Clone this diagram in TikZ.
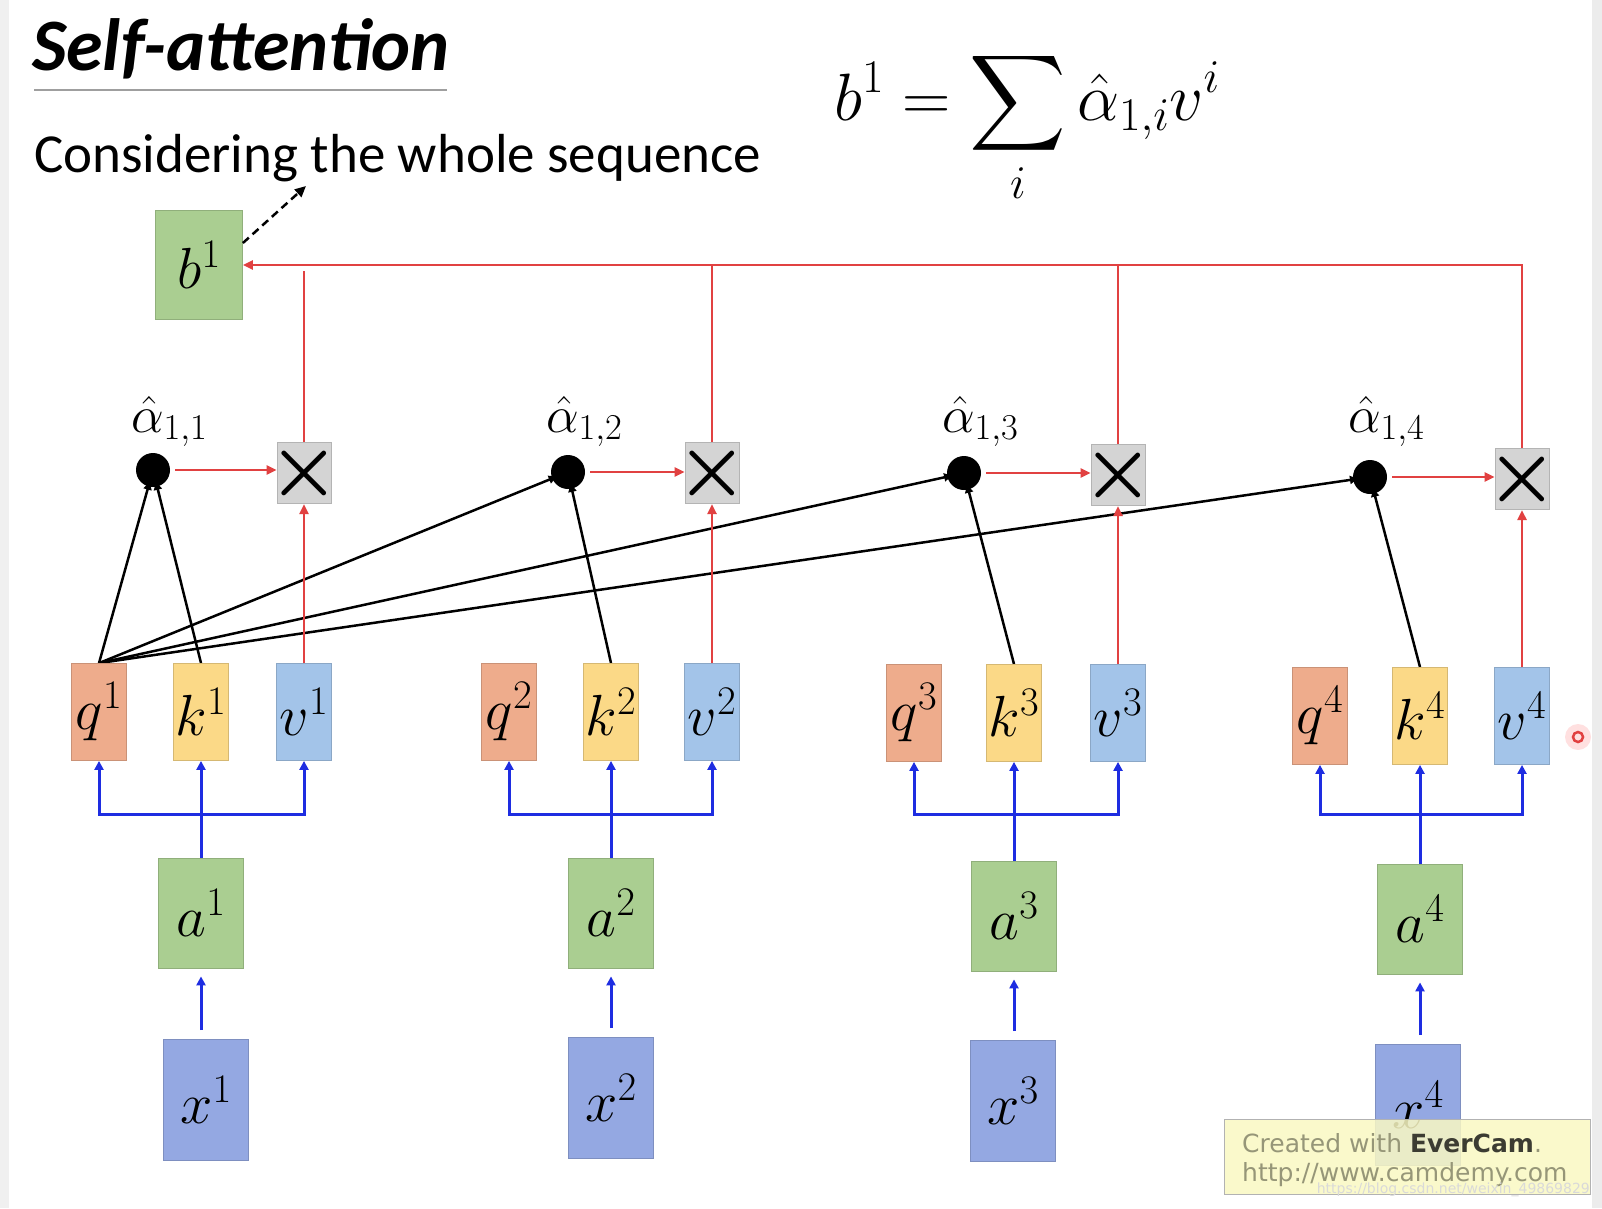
\RequirePackage{fix-cm}
\documentclass[tikz,border=0pt]{standalone}
\usepackage{fontspec}
\DeclareFontShape{OMX}{cmex}{m}{n}{<-> cmex10}{}
\newfontfamily\calibri{Carlito}
\newfontfamily\dejavu{DejaVu Sans}
\usetikzlibrary{arrows.meta}
\pgfdeclarelayer{back}
\pgfdeclarelayer{lines}
\pgfsetlayers{back,lines,main}
\definecolor{qcol}{RGB}{238,172,140}
\definecolor{kcol}{RGB}{251,217,135}
\definecolor{vcol}{RGB}{163,196,233}
\definecolor{gcol}{RGB}{170,206,145}
\definecolor{xcol}{RGB}{148,168,226}
\definecolor{mcol}{RGB}{212,212,212}
\definecolor{redc}{RGB}{225,65,65}
\definecolor{bluc}{RGB}{30,45,225}
\definecolor{wmyellow}{RGB}{250,248,195}
\definecolor{wmgray}{RGB}{150,150,120}
\definecolor{wmdark}{RGB}{60,60,50}
\begin{document}
\begin{tikzpicture}[x=1pt,y=-1pt,
  box/.style={rectangle, inner sep=0pt, line width=0.8pt, font=\fontsize{58}{60}\selectfont},
  qbox/.style={box, fill=qcol, draw=qcol!85!black, minimum width=55pt, minimum height=97pt},
  kbox/.style={box, fill=kcol, draw=kcol!85!black, minimum width=55pt, minimum height=97pt},
  vbox/.style={box, fill=vcol, draw=vcol!85!black, minimum width=55pt, minimum height=97pt},
  abox/.style={box, fill=gcol, draw=gcol!85!black, minimum width=85pt, minimum height=110pt},
  xbox/.style={box, fill=xcol, draw=xcol!85!black, minimum width=85pt, minimum height=121pt},
  mbox/.style={rectangle, inner sep=0pt, fill=mcol, draw=mcol!85!black, line width=0.8pt, minimum width=54pt, minimum height=55pt},
  dot/.style={circle, fill=black, inner sep=0pt, minimum size=34pt},
  alab/.style={anchor=base west, inner sep=0pt, font=\fontsize{52}{56}\selectfont},
  redline/.style={draw=redc, line width=2.5pt},
  redarr/.style={redline, -{Triangle[length=10pt,width=9pt]}},
  blueline/.style={draw=bluc, line width=3pt},
  bluearr/.style={blueline, -{Triangle[length=9pt,width=9pt]}},
  blkarr/.style={draw=black, line width=2.5pt, -{Triangle[length=8pt,width=8pt]}, shorten >=-5pt},
]
\useasboundingbox (0,0) rectangle (1602,1208);
\begin{pgfonlayer}{back}
\fill[white] (0,0) rectangle (1602,1208);
\fill[gray!12] (0,0) rectangle (9,1208);
\fill[gray!15] (1592,0) rectangle (1602,1208);
\end{pgfonlayer}

% title and texts
\node[anchor=base west, inner sep=0pt] (title) at (32,70) {\calibri\fontsize{74}{80}\selectfont\bfseries\itshape Self-attention};
\draw[gray!75, line width=2.5pt] (34,90) -- (447,90);
\node[anchor=base west, inner sep=0pt] (cons) at (34,172) {\calibri\fontsize{55}{60}\selectfont Considering the whole sequence};
\node[anchor=base, inner sep=0pt] (form) at (1027,120) {\fontsize{67}{70}\selectfont$\displaystyle b^1=\sum_i \hat{\alpha}_{1,i}v^i$};

% b1
\node[abox, minimum width=87pt, minimum height=109pt] (b1) at (199,265) {$b^1$};
\coordinate (c1) at (306,186);
\draw[black, line width=2.5pt, dashed, dash pattern=on 8pt off 5pt, -{Triangle[length=11pt,width=10pt]}] ([yshift=22pt]b1.east) -- (c1);

% groups
\foreach \i/\qx/\kx/\vx/\yy/\ay/\xx/\xy/\my/\dx/\dy in {
  1/99/201/304/712/913/206/1100/473/153/470,
  2/509/611/712/712/913/611/1098/473/568/472,
  3/914/1014/1118/713/916/1013/1101/475/964/473,
  4/1320/1420/1522/716/919/1418/1105/479/1370/477}{
  \node[qbox] (q\i) at (\qx,\yy) {$q^{\i}$};
  \node[kbox] (k\i) at (\kx,\yy) {$k^{\i}$};
  \node[vbox] (v\i) at (\vx,\yy) {$v^{\i}$};
  \node[abox] (a\i) at (\kx,\ay) {$a^{\i}$};
  \node[xbox] (x\i) at (\xx,\xy) {$x^{\i}$};
  \node[mbox] (m\i) at (\vx,\my) {\makebox[0pt]{\fontsize{80}{80}\selectfont\boldmath$\times$}};
  \node[dot] (d\i) at (\dx,\dy) {};
  \node[alab] (l\i) at (\dx-22,432) {$\hat{\alpha}_{1,\i}$};
  \coordinate (j\i) at (\kx,814);
  \draw[blueline] (a\i.north) -- (j\i);
  \draw[bluearr] (j\i) -| (q\i.south);
  \draw[bluearr] (j\i) -| (v\i.south);
  \draw[bluearr] (j\i) -- (k\i.south);
  \draw[bluearr, shorten <=9pt, shorten >=8pt] (x\i.north -| a\i.south) -- (a\i.south);
  \draw[redarr] (v\i.north) -- (m\i.south);
  \draw[redarr, shorten <=5pt] (d\i.east) -- (d\i.east -| m\i.west);
  \begin{pgfonlayer}{lines}
  \draw[blkarr] (q1.north) -- (d\i);
  \draw[blkarr] (k\i.north) -- (d\i);
  \end{pgfonlayer}
}
% red collection line
\coordinate (t1) at (304,271);
\coordinate (t2) at (712,264);
\coordinate (t3) at (1118,264);
\draw[redline] (m1.north) -- (t1);
\draw[redline] (m2.north) -- (t2);
\draw[redline] (m3.north) -- (t3);
\draw[redarr] (m4.north) |- (b1.east);

% cursor mark
\fill[red, opacity=0.12] (1578,737) circle[radius=13pt];
\draw[redc, line width=2.5pt] (1578,737) circle[radius=5pt];

% watermark
\node[draw=gray!60, line width=1.2pt, fill=wmyellow, fill opacity=0.85, text opacity=1, minimum width=366pt, minimum height=75pt, anchor=north west, inner sep=0pt] (wm) at (1224,1119) {};
\node[anchor=west, inner sep=0pt, text=wmgray, font=\dejavu\fontsize{25}{28}\selectfont] (wm1) at (1242,1143) {Created with {\color{wmdark}\bfseries EverCam}.};
\node[anchor=west, inner sep=0pt, text=wmgray, font=\dejavu\fontsize{25}{28}\selectfont] (wm2) at (1242,1175) {http://www.camdemy.com};
\node[anchor=east, inner sep=0pt, text=gray!30, font=\dejavu\fontsize{14}{16}\selectfont] (csdn) at (1590,1190) {https://blog.csdn.net/weixin\_49869829};
\end{tikzpicture}
\end{document}
